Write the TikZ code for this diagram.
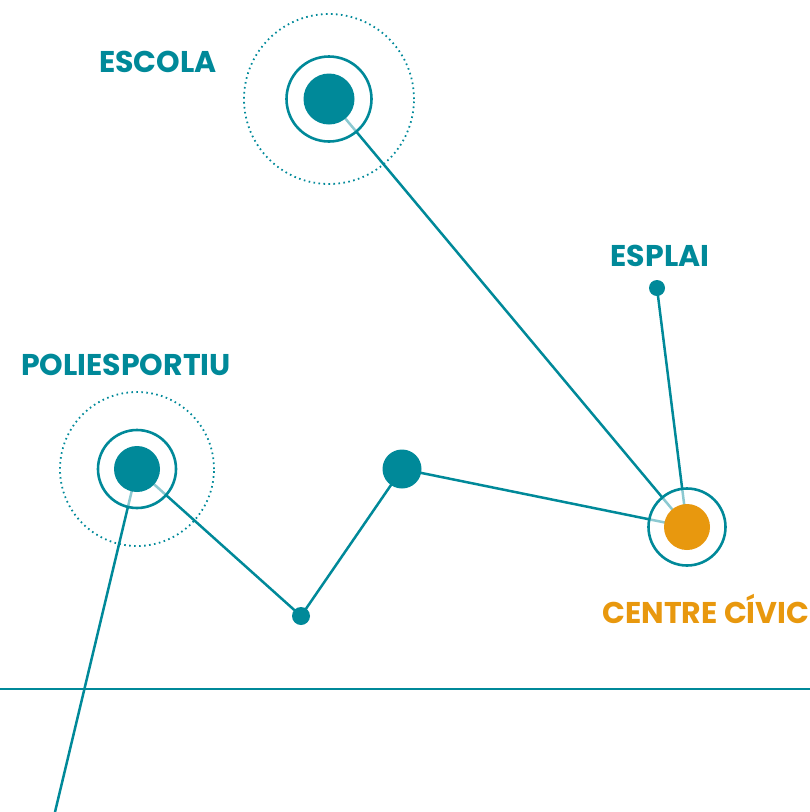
\documentclass[tikz,border=0pt]{standalone}
\usepackage{fontspec}
\usepackage{tikz}
\usetikzlibrary{positioning}
\newfontfamily\labelfont{Poppins}
\definecolor{mapteal}{RGB}{0,137,153}
\definecolor{maporange}{RGB}{232,152,14}
\pgfdeclarelayer{background}
\pgfsetlayers{background,main}

\begin{document}
\begin{tikzpicture}[
  x=1pt, y=-1pt,
  link/.style={draw=mapteal, line width=2.5pt},
  halo/.style={circle, draw=mapteal, line width=1.8pt,
    dash pattern=on 1.6pt off 3.4pt, minimum size=#1},
  ring/.style={circle, draw=mapteal, line width=2.6pt, fill=white,
    fill opacity=0.55, minimum size=#1},
  spot/.style={circle, fill=#1, inner sep=0pt},
  place/.style={font=\labelfont\bfseries\fontsize{30}{33}\selectfont,
    text=mapteal, inner sep=0pt}
]
  \useasboundingbox (0,0) rectangle (810,812);

  % halos and rings round the main places
  \node[halo=170] (escolahalo) at (329,99) {};
  \node[halo=154] (polihalo) at (137,469) {};
  \node[ring=85] (escolaring) at (329,99) {};
  \node[ring=78] (poliring) at (137,469) {};
  \node[ring=77] (civicring) at (687,527) {};

  % the places themselves
  \node[spot=mapteal, minimum size=51] (escola) at (329,99) {};
  \node[spot=mapteal, minimum size=46] (poli) at (137,469) {};
  \node[spot=maporange, minimum size=46] (civic) at (687,527) {};
  \node[spot=mapteal, minimum size=39] (mid) at (402,469) {};
  \node[spot=mapteal, minimum size=18] (low) at (301,616) {};
  \node[spot=mapteal, minimum size=16] (esplai) at (657,288) {};
  \coordinate (exit) at (55,812);

  % labels
  \node[place] (escolalbl) at (158,62) {ESCOLA};
  \node[place] (esplailbl) at (660,256) {ESPLAI};
  \node[place] (polilbl) at (126,365) {POLIESPORTIU};
  \node[place, text=maporange] (civiclbl) at (706,609) {CENTRE CÍVIC};

  % links, drawn under the rings
  \begin{pgfonlayer}{background}
    \draw[link] (escola.center) -- (civic.center);
    \draw[link] (esplai.center) -- (civic.center);
    \draw[link] (mid.center) -- (civic.center);
    \draw[link] (poli.center) -- (low.center) -- (mid.center);
    \draw[link] (poli.center) -- (exit);
    \draw[link] (0,689) -- (810,689);
  \end{pgfonlayer}
\end{tikzpicture}
\end{document}
